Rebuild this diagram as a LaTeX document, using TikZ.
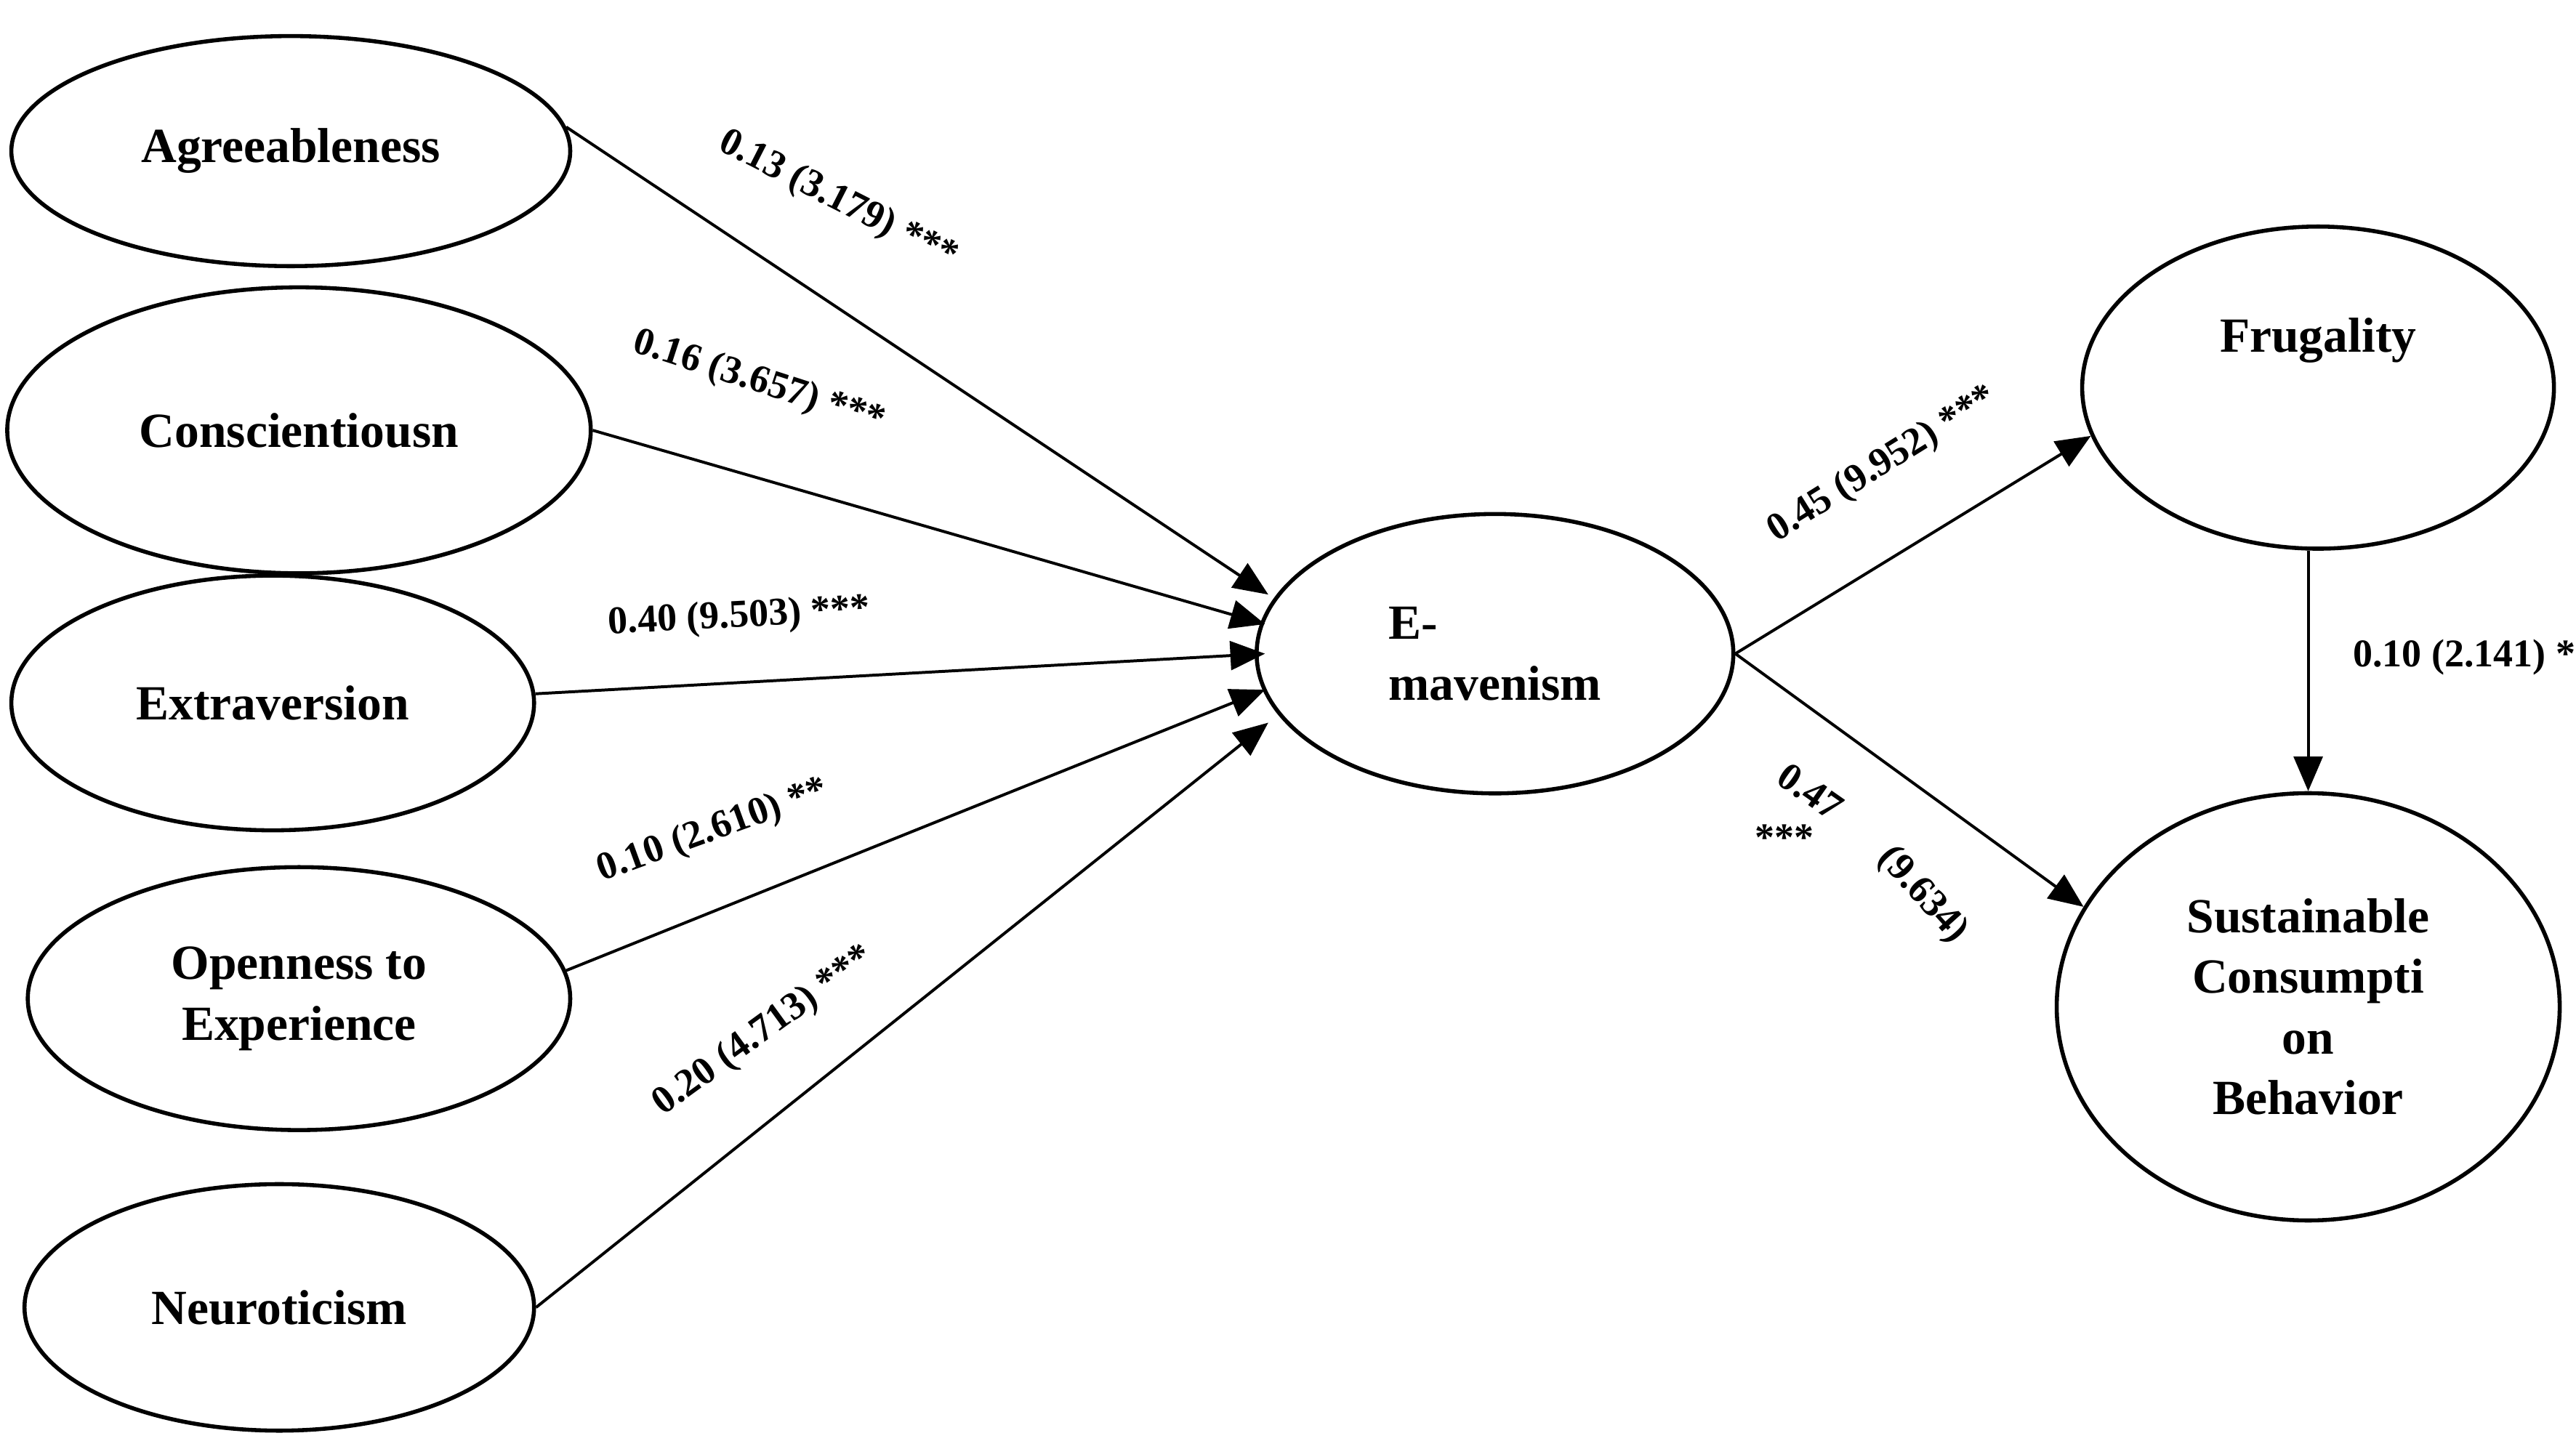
\documentclass[tikz,border=0pt]{standalone}
\usepackage{fontspec}
\setmainfont{Liberation Serif}
\usetikzlibrary{shapes.geometric,arrows.meta}
\tikzset{
	construct/.style={draw, ellipse, line width=0.7pt, inner sep=0pt, font=\bfseries\fontsize{8.5}{10.5}\selectfont, align=center},
	path/.style={-{Triangle[length=6pt,width=5pt]}, line width=0.5pt},
	coef/.style={font=\bfseries\fontsize{6.8}{8}\selectfont, inner sep=0pt}
}
\begin{document}
\begin{tikzpicture}[x=0.01cm, y=-0.01cm]
    \useasboundingbox (0,0) rectangle (1568,882);

    \node[construct, minimum width=3.40cm, minimum height=1.40cm] (agr) at (177,92) {Agreeableness};
    \node[construct, minimum width=3.55cm, minimum height=1.74cm] (con) at (182,262) {Conscientiousn};
    \node[construct, minimum width=3.18cm, minimum height=1.55cm] (ext) at (166,428) {Extraversion};
    \node[construct, minimum width=3.30cm, minimum height=1.60cm] (ope) at (182,608) {Openness to\\Experience};
    \node[construct, minimum width=3.10cm, minimum height=1.50cm] (neu) at (170,796) {Neuroticism};
    \node[construct, minimum width=2.90cm, minimum height=1.70cm, align=left] (mav) at (910,398) {E-\\mavenism};
    \node[construct, minimum width=2.87cm, minimum height=1.96cm] (fru) at (1411,236) {Frugality\\[0.9em]};
    \node[construct, minimum width=3.06cm, minimum height=2.60cm] (scb) at (1405,613) {Sustainable\\Consumpti\\on\\Behavior};

    \coordinate (t1) at (772,362);
    \coordinate (t2) at (770,380);
    \coordinate (t3) at (770,398);
    \coordinate (t4) at (770,420);
    \coordinate (t5) at (772,440);

    \draw[path] (agr.5) -- (t1);
    \draw[path] (con.east) -- (t2);
    \draw[path] (ext.2) -- (t3);
    \draw[path] (ope.6) -- (t4);
    \draw[path] (neu.east) -- (t5);
    \draw[path] (mav.east) -- (fru.192);
    \draw[path] (mav.east) -- (scb.156);
    \draw[path] (fru.south -| scb.north) -- (scb.north);

    % coefficients
    \node[coef, rotate=-27] at (510,122) {0.13 (3.179) ***};
    \node[coef, rotate=-18] at (462,233) {0.16 (3.657) ***};
    \node[coef, rotate=3] at (450,376) {0.40 (9.503) ***};
    \node[coef, rotate=20] at (434,506) {0.10 (2.610) **};
    \node[coef, rotate=36] at (465,628) {0.20 (4.713) ***};
    \node[coef, rotate=32] at (1146,283) {0.45 (9.952) ***};
    \node[coef, rotate=-35] at (1102,482) {0.47};
    \node[coef] at (1086,510) {***};
    \node[coef, rotate=-48] at (1170,545) {(9.634)};
    \node[coef] at (1500,400) {0.10 (2.141) *};
\end{tikzpicture}
\end{document}
